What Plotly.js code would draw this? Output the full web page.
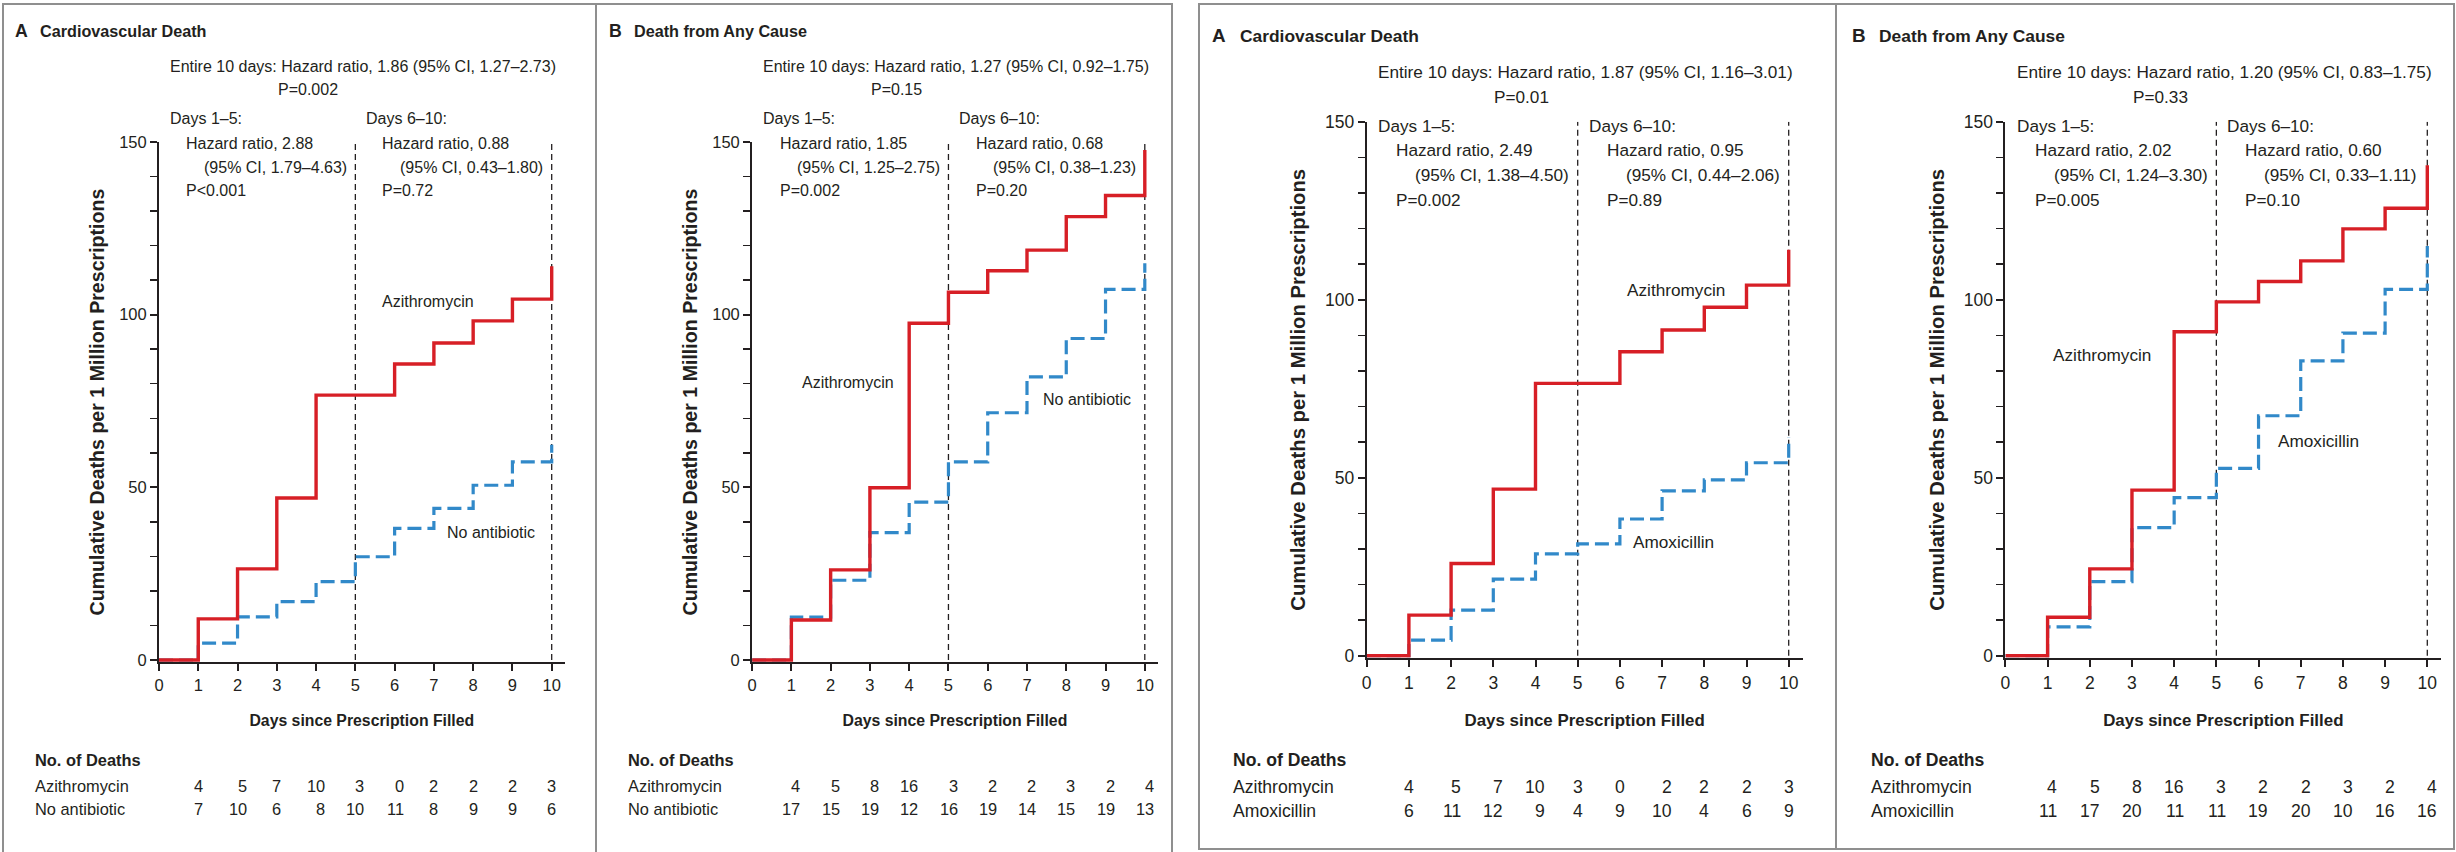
<!DOCTYPE html>
<html><head><meta charset="utf-8">
<script src="https://cdn.plot.ly/plotly-3.0.1.min.js"></script>
<style>html,body{margin:0;padding:0;background:#fff}#chart{width:2456px;height:852px}</style>
</head><body><div id="chart"></div>
<script>
// ---------- data ----------
const days = [0, 1, 2, 3, 4, 5, 6, 7, 8, 9, 10];
const countDays = [1, 2, 3, 4, 5, 6, 7, 8, 9, 10];
const dividerDays = [5, 10];
const yTickVals = [0, 50, 100, 150];
const xTickLabels = ['0', '1', '2', '3', '4', '5', '6', '7', '8', '9', '10'];

// cumulative deaths per 1 million prescriptions
const azithroCvA   = [0, 11.9, 26.4, 46.9, 76.7, 76.7, 85.7, 91.8, 98.2, 104.5, 114.0];
const noAbxCv      = [0, 4.9, 12.5, 16.9, 22.7, 29.9, 38.1, 43.9, 50.6, 57.4, 62.3];
const azithroAnyA  = [0, 11.6, 26.1, 49.9, 97.5, 106.5, 112.7, 118.7, 128.4, 134.5, 147.7];
const noAbxAny     = [0, 12.4, 23.1, 36.9, 45.7, 57.4, 71.6, 82.0, 93.1, 107.3, 114.9];
const azithroCvB   = [0, 11.4, 25.9, 46.8, 76.5, 76.5, 85.4, 91.5, 97.9, 104.1, 114.0];
const amoxCv       = [0, 4.4, 12.8, 21.5, 28.6, 31.4, 38.4, 46.3, 49.4, 54.2, 61.3];
const azithroAnyB  = [0, 10.8, 24.4, 46.5, 91.0, 99.4, 105.1, 110.9, 119.9, 125.7, 137.8];
const amoxAny      = [0, 8.1, 20.8, 36.0, 44.4, 52.6, 67.4, 82.8, 90.6, 102.9, 115.1];

// number of deaths per day
const azCvCounts     = [4, 5, 7, 10, 3, 0, 2, 2, 2, 3];
const noAbxCvCounts  = [7, 10, 6, 8, 10, 11, 8, 9, 9, 6];
const azAnyCounts    = [4, 5, 8, 16, 3, 2, 2, 3, 2, 4];
const noAbxAnyCounts = [17, 15, 19, 12, 16, 19, 14, 15, 19, 13];
const amoxCvCounts   = [6, 11, 12, 9, 4, 9, 10, 4, 6, 9];
const amoxAnyCounts  = [11, 17, 20, 11, 11, 19, 20, 10, 16, 16];

const statsCvNone  = ['Entire 10 days: Hazard ratio, 1.86 (95% CI, 1.27–2.73)', 'P=0.002', 'Days 1–5:', 'Hazard ratio, 2.88', '(95% CI, 1.79–4.63)', 'P&lt;0.001', 'Days 6–10:', 'Hazard ratio, 0.88', '(95% CI, 0.43–1.80)', 'P=0.72'];
const statsAnyNone = ['Entire 10 days: Hazard ratio, 1.27 (95% CI, 0.92–1.75)', 'P=0.15', 'Days 1–5:', 'Hazard ratio, 1.85', '(95% CI, 1.25–2.75)', 'P=0.002', 'Days 6–10:', 'Hazard ratio, 0.68', '(95% CI, 0.38–1.23)', 'P=0.20'];
const statsCvAmox  = ['Entire 10 days: Hazard ratio, 1.87 (95% CI, 1.16–3.01)', 'P=0.01', 'Days 1–5:', 'Hazard ratio, 2.49', '(95% CI, 1.38–4.50)', 'P=0.002', 'Days 6–10:', 'Hazard ratio, 0.95', '(95% CI, 0.44–2.06)', 'P=0.89'];
const statsAnyAmox = ['Entire 10 days: Hazard ratio, 1.20 (95% CI, 0.83–1.75)', 'P=0.33', 'Days 1–5:', 'Hazard ratio, 2.02', '(95% CI, 1.24–3.30)', 'P=0.005', 'Days 6–10:', 'Hazard ratio, 0.60', '(95% CI, 0.33–1.11)', 'P=0.10'];

const seriesAzithro = 'Azithromycin';
const seriesNone = 'No antibiotic';
const seriesAmox = 'Amoxicillin';
const titleCv = 'Cardiovascular Death';
const titleAny = 'Death from Any Cause';
const xTitle = 'Days since Prescription Filled';
const yTitle = 'Cumulative Deaths per 1 Million Prescriptions';
const tableTitle = 'No. of Deaths';

// ---------- styling / layout ----------
const W = 2456, H = 852;
const RED = '#d71f26', BLUE = '#3189c9', INK = '#231f20', FRAME = '#8f8f8f';
const SANS = '"Liberation Sans", Arial, sans-serif';
const XMAX = 10.33, YMIN = -0.6, YMAX = 150;
const px = v => v / W, py = v => 1 - v / H;

const figs = [
  {y0: 660, y150: 142, fs: 16, tickFs: 16.5, tableFs: 16.4, titleFs: 16.2, xTitleFs: 15.8, yTitleFs: 19.6,
   xStand: 22, yStand: 9, tickStand: 0, titleY: 31, statY: [66, 89, 119, 143, 167, 191], tableY: [760, 785.7, 809.3]},
  {y0: 655.7, y150: 121.7, fs: 17.2, tickFs: 17.5, tableFs: 17.6, titleFs: 17.4, xTitleFs: 16.9, yTitleFs: 20.3,
   xStand: 22, yStand: 14, tickStand: 1, titleY: 36, statY: [71.7, 96.7, 126, 150, 175, 200], tableY: [760, 786.7, 811]}
];
const statX = [0.27, 3.02, 0.27, 0.70, 1.15, 0.70, 5.26, 5.69, 6.14, 5.69];
const statRow = [0, 1, 2, 3, 4, 5, 2, 3, 4, 5];

const panels = [
  {n: 1, fig: 0, x0: 159,    ppd: 39.27, letter: 'A', title: titleCv,  stats: statsCvNone,  red: azithroCvA,  blue: noAbxCv,  redCounts: azCvCounts,  blueCounts: noAbxCvCounts,  blueName: seriesNone, letterX: 15,     titleX: 40,     tableX: 35,     redLab: [5.68, 103.7], blueLab: [7.34, 36.9]},
  {n: 2, fig: 0, x0: 752.1,  ppd: 39.27, letter: 'B', title: titleAny, stats: statsAnyNone, red: azithroAnyA, blue: noAbxAny, redCounts: azAnyCounts, blueCounts: noAbxAnyCounts, blueName: seriesNone, letterX: 609,    titleX: 634,    tableX: 627.6,  redLab: [1.26, 80.4],  blueLab: [7.40, 75.3]},
  {n: 3, fig: 1, x0: 1366.7, ppd: 42.2,  letter: 'A', title: titleCv,  stats: statsCvAmox,  red: azithroCvB,  blue: amoxCv,   redCounts: azCvCounts,  blueCounts: amoxCvCounts,   blueName: seriesAmox, letterX: 1212,   titleX: 1240,   tableX: 1232.9, redLab: [6.16, 102.7], blueLab: [6.31, 32.0]},
  {n: 4, fig: 1, x0: 2005.4, ppd: 42.19, letter: 'B', title: titleAny, stats: statsAnyAmox, red: azithroAnyB, blue: amoxAny,  redCounts: azAnyCounts, blueCounts: amoxAnyCounts,  blueName: seriesAmox, letterX: 1851.6, titleX: 1878.8, tableX: 1870.7, redLab: [1.12, 84.5],  blueLab: [6.45, 60.4]}
];

const traces = [], annotations = [], shapes = [];
const layout = {
  width: W, height: H, margin: {l: 0, r: 0, t: 0, b: 0},
  paper_bgcolor: '#fff', plot_bgcolor: 'rgba(0,0,0,0)', showlegend: false,
  annotations, shapes
};

function txt(text, x, y, xref, yref, size, opts) {
  return Object.assign({
    text, x, y, xref, yref, showarrow: false, xanchor: 'left', yanchor: 'middle',
    borderpad: 0, borderwidth: 0,
    font: {family: SANS, size, color: INK}
  }, opts || {});
}

panels.forEach(p => {
  const f = figs[p.fig];
  const sfx = p.n === 1 ? '' : String(p.n);
  const xa = 'x' + sfx, ya = 'y' + sfx;
  const ppu = (f.y0 - f.y150) / YMAX;
  const xDom = [px(p.x0), px(p.x0 + XMAX * p.ppd)];
  const yDom = [py(f.y0 - YMIN * ppu), py(f.y150)];

  layout['xaxis' + sfx] = {
    domain: xDom, range: [0, XMAX], anchor: ya, fixedrange: true,
    showline: true, linecolor: INK, linewidth: 2, layer: 'below traces',
    showgrid: false, zeroline: false,
    ticks: 'outside', ticklen: 7, tickwidth: 2, tickcolor: INK, ticklabelstandoff: f.tickStand,
    tickmode: 'array', tickvals: days, ticktext: xTickLabels,
    tickfont: {family: SANS, size: f.tickFs, color: INK},
    title: {text: xTitle, standoff: f.xStand, font: {family: SANS, size: f.xTitleFs, color: INK, weight: 700}}
  };
  layout['yaxis' + sfx] = {
    domain: yDom, range: [YMIN, YMAX], anchor: xa, fixedrange: true,
    showline: true, linecolor: INK, linewidth: 2, layer: 'below traces',
    showgrid: false, zeroline: false,
    ticks: 'outside', ticklen: 7, tickwidth: 2, tickcolor: INK,
    tickmode: 'array', tickvals: yTickVals,
    minor: {tick0: 0, dtick: 10, ticks: 'outside', ticklen: 7, tickwidth: 1.5, tickcolor: INK, showgrid: false},
    tickfont: {family: SANS, size: f.tickFs, color: INK},
    title: {text: yTitle, standoff: f.yStand, font: {family: SANS, size: f.yTitleFs, color: INK, weight: 700}}
  };

  dividerDays.forEach(d => shapes.push({
    type: 'line', xref: xa, yref: ya, x0: d, x1: d, y0: 0, y1: YMAX, layer: 'below',
    line: {color: INK, width: 1.3, dash: '6px,4px'}
  }));

  traces.push({x: days, y: p.blue, xaxis: xa, yaxis: ya, type: 'scatter', mode: 'lines', name: p.blueName,
    line: {shape: 'hv', color: BLUE, width: 3.2, dash: '14px,6px'}, hoverinfo: 'skip'});
  traces.push({x: days, y: p.red, xaxis: xa, yaxis: ya, type: 'scatter', mode: 'lines', name: seriesAzithro,
    line: {shape: 'hv', color: RED, width: 3.4}, hoverinfo: 'skip'});

  // panel heading
  annotations.push(txt('<b>' + p.letter + '</b>', px(p.letterX), py(f.titleY), 'paper', 'paper', f.titleFs + 1.5));
  annotations.push(txt('<b>' + p.title + '</b>', px(p.titleX), py(f.titleY), 'paper', 'paper', f.titleFs));

  // statistics
  p.stats.forEach((s, i) => annotations.push(txt(s, statX[i], py(f.statY[statRow[i]]), xa, 'paper', f.fs)));

  // curve labels
  annotations.push(txt(seriesAzithro, p.redLab[0], p.redLab[1], xa, ya, f.fs));
  annotations.push(txt(p.blueName, p.blueLab[0], p.blueLab[1], xa, ya, f.fs));

  // deaths table
  annotations.push(txt('<b>' + tableTitle + '</b>', px(p.tableX), py(f.tableY[0]), 'paper', 'paper', f.tableFs));
  annotations.push(txt(seriesAzithro, px(p.tableX), py(f.tableY[1]), 'paper', 'paper', f.tableFs));
  annotations.push(txt(p.blueName, px(p.tableX), py(f.tableY[2]), 'paper', 'paper', f.tableFs));
  countDays.forEach((d, i) => {
    const wide = Math.max(p.redCounts[i], p.blueCounts[i]) >= 10;
    [p.redCounts, p.blueCounts].forEach((arr, r) => {
      annotations.push(txt(String(arr[i]), d, py(f.tableY[r + 1]), xa, 'paper', f.tableFs,
        {xanchor: wide ? 'right' : 'center', xshift: wide ? f.tableFs * 0.556 : 0}));
    });
  });
});

// figure frames
const frameLine = {color: FRAME, width: 2};
shapes.push({type: 'rect', xref: 'paper', yref: 'paper', x0: px(3), x1: px(1172), y0: py(4), y1: py(862), line: frameLine, layer: 'above'});
shapes.push({type: 'line', xref: 'paper', yref: 'paper', x0: px(596), x1: px(596), y0: py(4), y1: py(862), line: frameLine, layer: 'above'});
shapes.push({type: 'rect', xref: 'paper', yref: 'paper', x0: px(1199), x1: px(2454), y0: py(4), y1: py(849), line: frameLine, layer: 'above'});
shapes.push({type: 'line', xref: 'paper', yref: 'paper', x0: px(1836), x1: px(1836), y0: py(4), y1: py(849), line: frameLine, layer: 'above'});

Plotly.newPlot('chart', traces, layout, {displayModeBar: false, staticPlot: true});
</script>
</body></html>
